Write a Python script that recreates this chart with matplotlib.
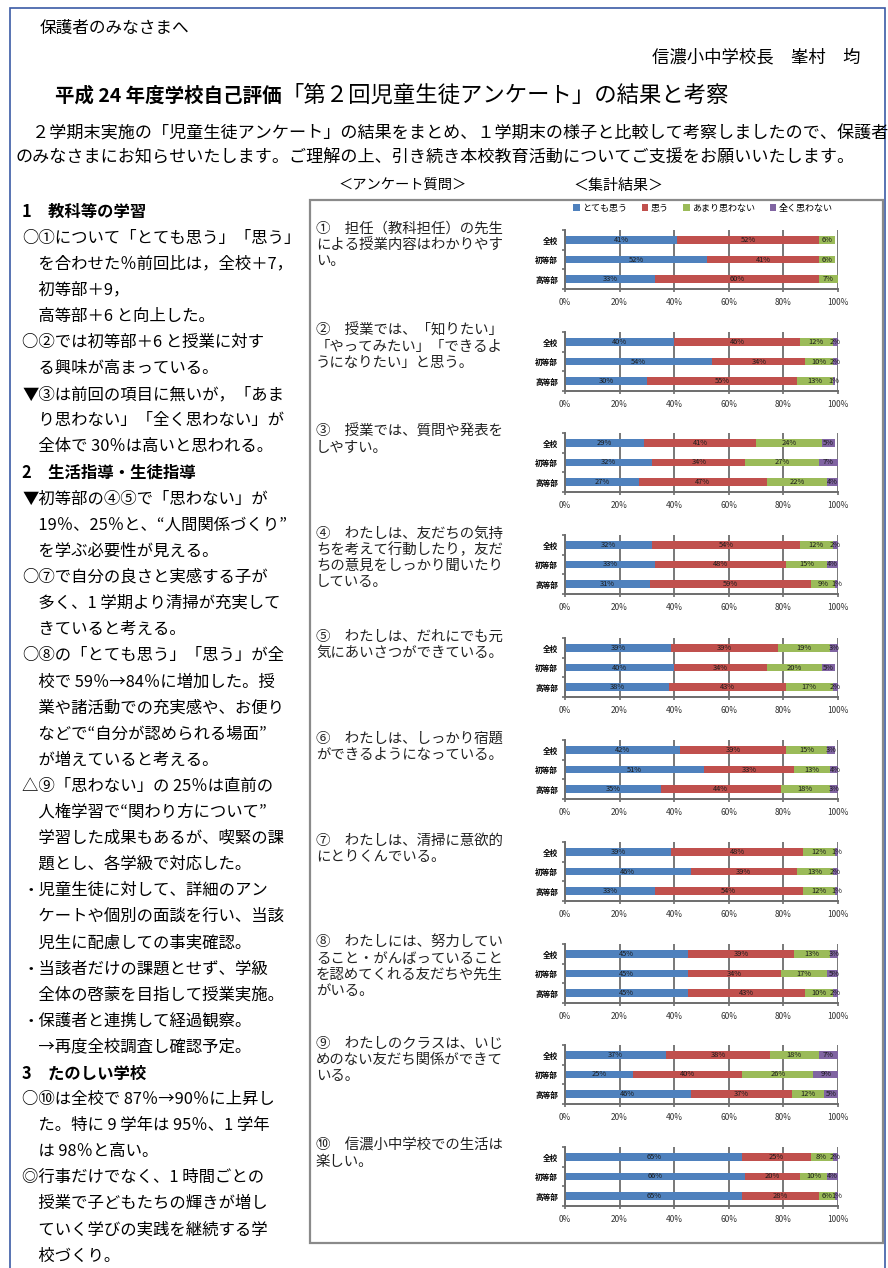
import matplotlib
matplotlib.use("Agg")
import matplotlib.pyplot as plt
from matplotlib.patches import Rectangle, Patch

plt.rcParams['font.family'] = ['Noto Sans CJK JP', 'DejaVu Sans']

W, H = 888, 1268

groups = ["全校", "初等部", "高等部"]
answers = ["とても思う", "思う", "あまり思わない", "全く思わない"]
colors = ["#4F81BD", "#C0504D", "#9BBB59", "#8064A2"]

# survey results (%), rows: 全校 / 初等部 / 高等部, cols: answers
q1 = [[41, 52, 6, 0], [52, 41, 6, 0], [33, 60, 7, 0]]
q2 = [[40, 46, 12, 2], [54, 34, 10, 2], [30, 55, 13, 1]]
q3 = [[29, 41, 24, 5], [32, 34, 27, 7], [27, 47, 22, 4]]
q4 = [[32, 54, 12, 2], [33, 48, 15, 4], [31, 59, 9, 1]]
q5 = [[39, 39, 19, 3], [40, 34, 20, 5], [38, 43, 17, 2]]
q6 = [[42, 39, 15, 3], [51, 33, 13, 4], [35, 44, 18, 3]]
q7 = [[39, 48, 12, 1], [46, 39, 13, 2], [33, 54, 12, 1]]
q8 = [[45, 39, 13, 3], [45, 34, 17, 5], [45, 43, 10, 2]]
q9 = [[37, 38, 18, 7], [25, 40, 26, 9], [46, 37, 12, 5]]
q10 = [[65, 25, 8, 2], [66, 20, 10, 4], [65, 28, 6, 1]]
results = [q1, q2, q3, q4, q5, q6, q7, q8, q9, q10]

questions = [
    ["①　担任（教科担任）の先生", "による授業内容はわかりやす", "い。"],
    ["②　授業では、「知りたい」", "「やってみたい」「できるよ", "うになりたい」と思う。"],
    ["③　授業では、質問や発表を", "しやすい。"],
    ["④　わたしは、友だちの気持", "ちを考えて行動したり，友だ", "ちの意見をしっかり聞いたり", "している。"],
    ["⑤　わたしは、だれにでも元", "気にあいさつができている。"],
    ["⑥　わたしは、しっかり宿題", "ができるようになっている。"],
    ["⑦　わたしは、清掃に意欲的", "にとりくんでいる。"],
    ["⑧　わたしには、努力してい", "ること・がんばっていること", "を認めてくれる友だちや先生", "がいる。"],
    ["⑨　わたしのクラスは、いじ", "めのない友だち関係ができて", "いる。"],
    ["⑩　信濃小中学校での生活は", "楽しい。"],
]

notes = [
    ("1　教科等の学習", True),
    ("○①について「とても思う」「思う」", False),
    ("　を合わせた％前回比は，全校＋7，", False),
    ("　初等部＋9，", False),
    ("　高等部＋6 と向上した。", False),
    ("○②では初等部＋6 と授業に対す", False),
    ("　る興味が高まっている。", False),
    ("▼③は前回の項目に無いが，「あま", False),
    ("　り思わない」「全く思わない」が", False),
    ("　全体で 30％は高いと思われる。", False),
    ("2　生活指導・生徒指導", True),
    ("▼初等部の④⑤で「思わない」が", False),
    ("　19％、25％と、“人間関係づくり”", False),
    ("　を学ぶ必要性が見える。", False),
    ("○⑦で自分の良さと実感する子が", False),
    ("　多く、1 学期より清掃が充実して", False),
    ("　きていると考える。", False),
    ("○⑧の「とても思う」「思う」が全", False),
    ("　校で 59％→84％に増加した。授", False),
    ("　業や諸活動での充実感や、お便り", False),
    ("　などで“自分が認められる場面”", False),
    ("　が増えていると考える。", False),
    ("△⑨「思わない」の 25％は直前の", False),
    ("　人権学習で“関わり方について”", False),
    ("　学習した成果もあるが、喫緊の課", False),
    ("　題とし、各学級で対応した。", False),
    ("・児童生徒に対して、詳細のアン", False),
    ("　ケートや個別の面談を行い、当該", False),
    ("　児生に配慮しての事実確認。", False),
    ("・当該者だけの課題とせず、学級", False),
    ("　全体の啓蒙を目指して授業実施。", False),
    ("・保護者と連携して経過観察。", False),
    ("　→再度全校調査し確認予定。", False),
    ("3　たのしい学校", True),
    ("○⑩は全校で 87％→90％に上昇し", False),
    ("　た。特に 9 学年は 95％、1 学年", False),
    ("　は 98％と高い。", False),
    ("◎行事だけでなく、1 時間ごとの", False),
    ("　授業で子どもたちの輝きが増し", False),
    ("　ていく学びの実践を継続する学", False),
    ("　校づくり。", False),
]

fig = plt.figure(figsize=(W / 100, H / 100), dpi=100)


def ftext(x, y, s, **kw):
    # place text using pixel coords measured from the top-left corner
    kw.setdefault("va", "center")
    fig.text(x / W, 1 - y / H, s, **kw)


def frame(x0, y0, x1, y1, **kw):
    fig.patches.append(Rectangle((x0 / W, 1 - y1 / H), (x1 - x0) / W, (y1 - y0) / H,
                                 transform=fig.transFigure, fill=False, **kw))


# page border and results box
frame(10, 8, 885, 1275, edgecolor="#3b5ba5", lw=1.2)
frame(310, 200, 883, 1243, edgecolor="#8a8a8a", lw=1.6)

# header
ftext(40, 28, "保護者のみなさまへ", fontsize=12)
ftext(652, 57, "信濃小中学校長　峯村　均", fontsize=12.5)
ftext(55, 96, "平成 24 年度学校自己評価", fontsize=14, fontweight="bold")
ftext(282, 95, "「第２回児童生徒アンケート」の結果と考察", fontsize=16.1)
ftext(15, 133, "　２学期末実施の「児童生徒アンケート」の結果をまとめ、１学期末の様子と比較して考察しましたので、保護者",
      fontsize=12.3)
ftext(15, 158, "のみなさまにお知らせいたします。ご理解の上、引き続き本校教育活動についてご支援をお願いいたします。",
      fontsize=12.3)
ftext(338, 186, "＜アンケート質問＞", fontsize=10.3)
ftext(573, 186, "＜集計結果＞", fontsize=10.8)

# left column commentary
for i, (line, bold) in enumerate(notes):
    ftext(22, 212 + i * 26.1, line, fontsize=11.8,
          fontweight="bold" if bold else "normal")

# charts
bar_top = [240, 342, 443, 545, 648, 750, 852, 954, 1055, 1157]
pitch = 19.5
ax_left, ax_width = 565, 273

for qi, (data, qtext) in enumerate(zip(results, questions)):
    top = bar_top[qi] - pitch / 2
    ax = fig.add_axes([ax_left / W, 1 - (top + 3 * pitch) / H, ax_width / W, 3 * pitch / H])
    left = [0, 0, 0]
    for k in range(4):
        vals = [row[k] for row in data]
        ax.barh(range(3), vals, left=left, height=0.38, color=colors[k], zorder=2)
        for j, v in enumerate(vals):
            if v > 0:
                ax.text(left[j] + v / 2, j, f"{v}%", ha="center", va="center",
                        fontsize=5.4, color="#1a1a1a", zorder=3)
        left = [a + b for a, b in zip(left, vals)]
    ax.set_xlim(0, 100)
    ax.set_ylim(2.5, -0.5)
    ax.set_xticks(range(0, 101, 20))
    ax.set_xticklabels([f"{t}%" for t in range(0, 101, 20)], fontsize=6, color="#333333")
    ax.set_yticks(range(3))
    ax.set_yticklabels(groups, fontsize=5.5, fontweight="bold")
    ax.set_yticks([-0.5, 0.5, 1.5, 2.5], minor=True)
    ax.tick_params(axis="y", which="major", length=0, pad=5)
    ax.tick_params(axis="y", which="minor", length=2.5, width=1.2, color="#6d6d6d")
    ax.tick_params(axis="x", length=2.5, width=1.2, color="#6d6d6d", pad=4)
    ax.grid(axis="x", color="#6d6d6d", lw=1.3, zorder=1)
    ax.set_axisbelow(True)
    for side in ("top", "right"):
        ax.spines[side].set_visible(False)
    for side in ("left", "bottom"):
        ax.spines[side].set_color("#6d6d6d")
        ax.spines[side].set_linewidth(1.4)
    ax.patch.set_alpha(0)

    for li, line in enumerate(qtext):
        ftext(316, bar_top[qi] - 11 + li * 16, line, fontsize=10.4, color="#222222")

handles = [Patch(facecolor=c) for c in colors]
fig.legend(handles, answers, loc="center", bbox_to_anchor=(703 / W, 1 - 208 / H),
           ncol=4, frameon=False, fontsize=6.5, handlelength=0.7, handleheight=0.7,
           handletextpad=0.3, columnspacing=1.6, borderpad=0)

fig.savefig("out.png", dpi=100, facecolor="white")
